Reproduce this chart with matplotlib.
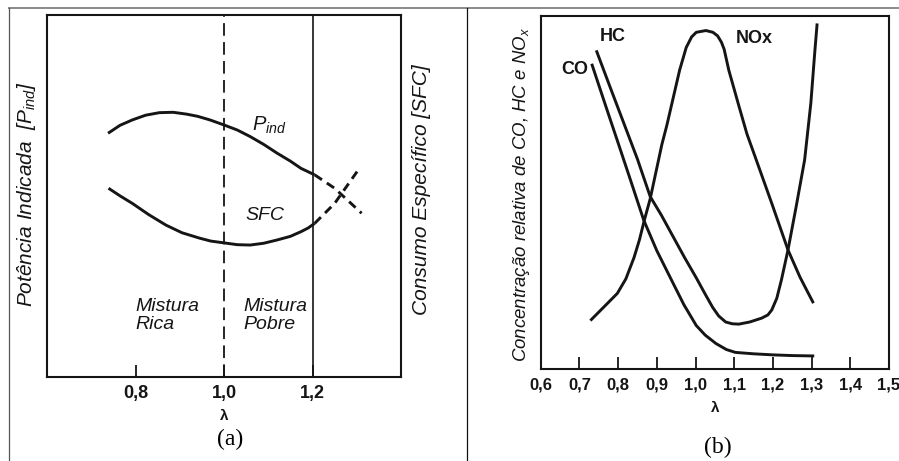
import matplotlib
matplotlib.use('Agg')
import matplotlib.pyplot as plt
from matplotlib.lines import Line2D

plt.rcParams['font.family'] = ['Liberation Sans', 'DejaVu Sans']
plt.rcParams['mathtext.fontset'] = 'custom'
plt.rcParams['mathtext.rm'] = 'Liberation Sans'
plt.rcParams['mathtext.it'] = 'Liberation Sans:italic'
plt.rcParams['mathtext.bf'] = 'Liberation Sans:bold'

# --- (a) potência indicada e consumo específico (unidades relativas 0-100)
lam_pind = [0.738, 0.765, 0.793, 0.823, 0.854, 0.885, 0.915, 0.940, 0.968, 1.000,
            1.030, 1.059, 1.090, 1.120, 1.150, 1.174, 1.205]
pind = [67.3, 69.5, 71.0, 72.3, 73.0, 73.1, 72.6, 72.0, 71.0, 69.6,
        68.2, 66.4, 64.2, 61.8, 59.6, 57.6, 55.8]
lam_pind_ext = [1.205, 1.250, 1.311]
pind_ext = [55.8, 52.1, 45.2]

lam_sfc = [0.739, 0.765, 0.793, 0.830, 0.869, 0.905, 0.945, 0.970, 1.000, 1.030,
           1.059, 1.090, 1.120, 1.150, 1.174, 1.190, 1.205]
sfc = [52.1, 50.0, 47.9, 44.8, 41.9, 39.8, 38.3, 37.5, 37.0, 36.5,
       36.4, 36.9, 37.8, 38.8, 40.1, 41.1, 42.4]
lam_sfc_ext = [1.205, 1.250, 1.303]
sfc_ext = [42.4, 47.9, 57.1]

ticks_a = [0.8, 1.0, 1.2]

# --- (b) concentração relativa de CO, HC e NOx
lam_co = [0.733, 0.770, 0.800, 0.835, 0.866, 0.900, 0.942, 0.970, 1.002, 1.025,
          1.053, 1.080, 1.103, 1.150, 1.200, 1.250, 1.303]
co = [86.0, 73.8, 64.0, 52.5, 42.2, 33.5, 24.3, 18.2, 12.3, 9.6,
      7.2, 5.5, 4.7, 4.3, 4.0, 3.8, 3.7]

lam_hc = [0.745, 0.780, 0.815, 0.850, 0.883, 0.912, 0.942, 0.972, 1.002, 1.025,
          1.044, 1.060, 1.078, 1.095, 1.112, 1.140, 1.171, 1.187, 1.197, 1.210,
          1.222, 1.239, 1.260, 1.282, 1.298, 1.308, 1.314]
hc = [89.8, 79.6, 69.5, 59.4, 48.8, 43.5, 37.5, 31.5, 25.8, 21.2,
      17.5, 15.0, 13.3, 12.8, 12.7, 13.3, 14.4, 15.3, 16.7, 20.0,
      25.2, 33.7, 45.9, 59.2, 75.2, 89.4, 97.4]

lam_nox = [0.731, 0.770, 0.798, 0.820, 0.841, 0.855, 0.868, 0.883, 0.913, 0.926,
           0.959, 0.976, 0.990, 1.002, 1.027, 1.045, 1.057, 1.067, 1.074, 1.086,
           1.112, 1.133, 1.154, 1.197, 1.239, 1.270, 1.303]
nox = [14.0, 18.3, 21.4, 25.5, 31.5, 36.5, 42.2, 48.2, 63.5, 69.0,
       84.6, 91.0, 94.0, 95.3, 95.8, 95.3, 94.3, 92.5, 90.5, 84.6,
       74.5, 66.5, 60.1, 46.9, 33.7, 26.0, 19.0]

ticks_b = [0.6, 0.7, 0.8, 0.9, 1.0, 1.1, 1.2, 1.3, 1.4, 1.5]

W, H = 899, 461
ink = '#151515'


def box(x0, y0, x1, y1):
    # pixel box (top-left origin) -> figure fraction
    return [x0 / W, 1 - y1 / H, (x1 - x0) / W, (y1 - y0) / H]


def virgula(v):
    return f'{v:.1f}'.replace('.', ',')


fig = plt.figure(figsize=(W / 100, H / 100), dpi=100)

# moldura da tabela
fig.add_artist(Line2D([9 / W, 1], [1 - 8.5 / H] * 2, color='#8a8a8a', lw=1.4))
fig.add_artist(Line2D([8.7 / W] * 2, [0, 1 - 8.5 / H], color='#555555', lw=0.9))
fig.add_artist(Line2D([466.7 / W] * 2, [0, 1 - 8.5 / H], color='#111111', lw=0.9))

# ---------------- (a)
ax_a = fig.add_axes(box(47, 15, 401, 376.7))
ax_a.plot(lam_pind, pind, color=ink, lw=2.1, solid_capstyle='butt')
ax_a.plot(lam_pind_ext, pind_ext, color=ink, lw=2.1, ls=(0, (3, 2)))
ax_a.plot(lam_sfc, sfc, color=ink, lw=2.1, solid_capstyle='butt')
ax_a.plot(lam_sfc_ext, sfc_ext, color=ink, lw=2.1, ls=(0, (3, 2)))
ax_a.axvline(1.0, color=ink, lw=1.3, ls=(0, (7, 3.5)))
ax_a.axvline(1.2, color=ink, lw=1.2)
ax_a.set_xlim(0.6, 1.4)
ax_a.set_ylim(0, 100)
ax_a.set_xticks(ticks_a)
ax_a.set_xticklabels([virgula(v) for v in ticks_a], fontweight='bold')
ax_a.set_yticks([])
ax_a.tick_params(axis='x', direction='in', length=8.5, width=1.3, pad=6,
                 labelsize=13, colors=ink)
for s in ax_a.spines.values():
    s.set_linewidth(1.5)
    s.set_color(ink)

ax_a.text(0.8, 17.0, 'Mistura\nRica', style='italic', fontsize=14,
          ha='left', va='center', linespacing=1.1, color=ink)
ax_a.text(1.044, 17.0, 'Mistura\nPobre', style='italic', fontsize=14,
          ha='left', va='center', linespacing=1.1, color=ink)
ax_a.text(1.064, 69.6, '$P_{ind}$', fontsize=14.5, ha='left', va='center', color=ink)
ax_a.text(1.093, 44.6, 'SFC', style='italic', fontsize=14, ha='center',
          va='center', color=ink)
ax_a.text(-0.0565, 0.504, 'Potência Indicada  [$P_{ind}$]', rotation=90,
          style='italic', fontsize=15, ha='center', va='center',
          transform=ax_a.transAxes, color=ink)
ax_a.text(1.059, 0.516, 'Consumo Específico [SFC]', rotation=90,
          style='italic', fontsize=15, ha='center', va='center',
          transform=ax_a.transAxes, color=ink)
fig.text(224 / W, 1 - 416 / H, 'λ', ha='center', va='center', fontsize=11,
         fontweight='bold', color=ink)
fig.text(230 / W, 1 - 439 / H, '(a)', family='Liberation Serif', fontsize=17,
         ha='center', va='center')

# ---------------- (b)
ax_b = fig.add_axes(box(540.7, 15.7, 889, 369))
ax_b.plot(lam_co, co, color=ink, lw=2.1)
ax_b.plot(lam_hc, hc, color=ink, lw=2.1)
ax_b.plot(lam_nox, nox, color=ink, lw=2.1)
ax_b.set_xlim(0.6, 1.5)
ax_b.set_ylim(0, 100)
ax_b.set_xticks(ticks_b)
ax_b.set_xticklabels([virgula(v) for v in ticks_b], fontweight='bold')
ax_b.set_yticks([])
ax_b.tick_params(axis='x', direction='in', length=8.5, width=1.3, pad=6,
                 labelsize=12, colors=ink)
for s in ax_b.spines.values():
    s.set_linewidth(1.5)
    s.set_color(ink)

ax_b.text(0.687, 84.8, 'CO', fontweight='bold', fontsize=13, ha='center',
          va='center', color=ink)
ax_b.text(0.786, 94.1, 'HC', fontweight='bold', fontsize=13, ha='center',
          va='center', color=ink)
ax_b.text(1.153, 93.5, 'NOx', fontweight='bold', fontsize=13, ha='center',
          va='center', color=ink)
ax_b.text(-0.0546, 0.495, 'Concentração relativa de CO, HC e NO$_x$',
          rotation=90, style='italic', fontsize=13.4, ha='center', va='center',
          transform=ax_b.transAxes, color=ink)
fig.text(715 / W, 1 - 408 / H, 'λ', ha='center', va='center', fontsize=11,
         fontweight='bold', color=ink)
fig.text(718 / W, 1 - 447 / H, '(b)', family='Liberation Serif', fontsize=17,
         ha='center', va='center')

fig.savefig('out.png', dpi=100)
